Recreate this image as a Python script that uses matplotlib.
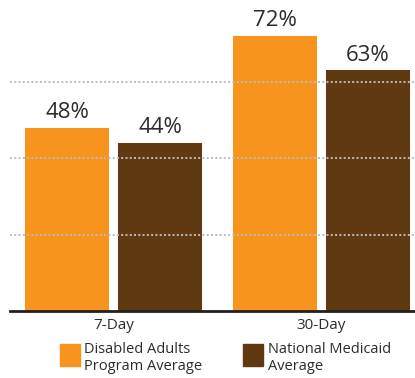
import numpy as np
import matplotlib
matplotlib.use("Agg")
import matplotlib.pyplot as plt
from matplotlib.patches import Rectangle

# follow-up rates by window
periods = ["7-Day", "30-Day"]
program_avg = [48, 72]
medicaid_avg = [44, 63]
series_names = ["Disabled Adults\nProgram Average", "National Medicaid\nAverage"]
colors = ["#F7941D", "#603913"]
grid_levels = [20, 40, 60]

plt.rcParams["font.family"] = ["Open Sans", "DejaVu Sans"]
text_color = "#2b2b2b"

fig = plt.figure(figsize=(4.15, 3.78), dpi=100)
ax = fig.add_axes([0, 0.1765, 1, 0.8235])

x = np.arange(len(periods))
w = 0.404
off = 0.2236
for vals, dx, c in [(program_avg, -off, colors[0]), (medicaid_avg, off, colors[1])]:
    bars = ax.bar(x + dx, vals, width=w, color=c, zorder=2)
    for b, v in zip(bars, vals):
        ax.annotate(f"{v}%", (b.get_x() + b.get_width() / 2, v),
                    xytext=(0, 3.5), textcoords="offset points",
                    ha="center", va="bottom", fontsize=16, color=text_color)

x0, x1 = -0.5457, 1.4495
# dotted reference lines sit over the bars
for g in grid_levels:
    ax.axhline(g, xmin=(-0.4976 - x0) / (x1 - x0), xmax=1, color="#bdbdbd",
               lw=1.4, linestyle=(0, (1, 1.2)), zorder=3)

ax.set_xlim(x0, x1)
ax.set_ylim(0, 81.4)
for s in ["top", "right", "left"]:
    ax.spines[s].set_visible(False)
ax.spines["bottom"].set_color("#231f20")
ax.spines["bottom"].set_linewidth(2)
ax.spines["bottom"].set_bounds(-0.4976, x1)
ax.set_yticks([])
ax.set_xticks(x)
ax.set_xticklabels(periods, fontsize=11, color=text_color)
ax.tick_params(axis="x", length=0, pad=5)

# legend swatches and labels
for (sx, tx), name, c in zip([(60, 84), (243, 268)], series_names, colors):
    fig.add_artist(Rectangle((sx / 415, 1 - 366 / 378), 20 / 415, 22 / 378,
                             transform=fig.transFigure, color=c))
    fig.text(tx / 415, 1 - 342 / 378, name, fontsize=10.5, color=text_color,
             ha="left", va="top", linespacing=1.15)

fig.savefig("out.png", dpi=100)
